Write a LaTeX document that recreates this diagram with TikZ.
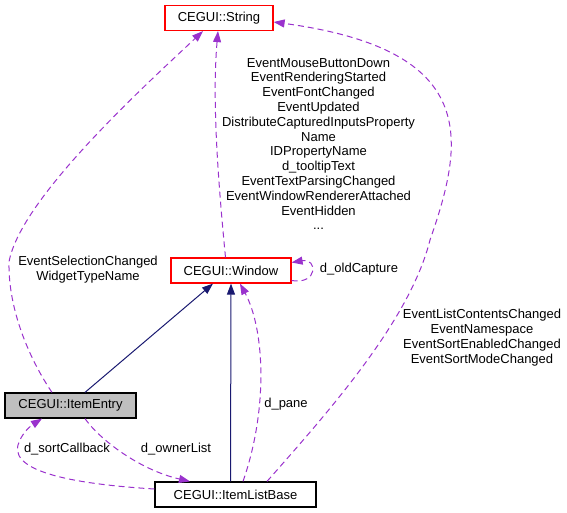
\documentclass[tikz,border=0pt]{standalone}
\usepackage{fontspec}
\setmainfont{Liberation Sans}
\usepackage{tikz}
\usetikzlibrary{arrows.meta,positioning}

\definecolor{orchid}{HTML}{9A32CD}
\definecolor{navy}{HTML}{191970}

\begin{document}
\begin{tikzpicture}
			[
				x=1pt, y=-1pt,
				font=\fontsize{13}{14.8}\selectfont,
				align=center,
				cls/.style={draw=black, line width=1.2pt, fill=white, inner sep=0pt, minimum height=25pt},
				hl/.style={cls, draw=red},
				label/.style={draw=none, fill=none, inner sep=0pt},
				uses/.style={-{Triangle[length=11pt,width=8pt]}, draw=orchid, line width=1pt, dash pattern=on 6pt off 4pt},
				inherit/.style={-{Triangle[length=11pt,width=8pt]}, draw=navy, line width=1pt}
			]
			\useasboundingbox (0,0) rectangle (567,513);

			% classes
			\node[hl, minimum width=108pt] (str) at ( 219.0,  18.0 ) {CEGUI::String};
			\node[hl, minimum width=120pt] (win) at ( 231.0, 270.5 ) {CEGUI::Window};
			\node[cls, fill={rgb,255:red,191;green,191;blue,191}, minimum width=131pt] (ie) at (  70.5, 405.5 ) {CEGUI::ItemEntry};
			\node[cls, minimum width=161pt] (ilb) at ( 235.5, 494.5 ) {CEGUI::ItemListBase};

			% member labels
			\node[label] (winstr) at ( 318.5, 144.0 ) {EventMouseButtonDown\\EventRenderingStarted\\EventFontChanged\\EventUpdated\\DistributeCapturedInputsProperty\\Name\\IDPropertyName\\d\_tooltipText\\EventTextParsingChanged\\EventWindowRendererAttached\\EventHidden\\...};
			\node[label] (iestr) at (  88.0, 270.0 ) {EventSelectionChanged\\WidgetTypeName};
			\node[label] (ilbstr) at ( 482.0, 337.5 ) {EventListContentsChanged\\EventNamespace\\EventSortEnabledChanged\\EventSortModeChanged};
			\node[label] (winwin) at ( 359.0, 269.0 ) {d\_oldCapture};
			\node[label] (ilbwin) at ( 286.0, 404.0 ) {d\_pane};
			\node[label] (ilbie) at (  67.0, 449.0 ) {d\_sortCallback};
			\node[label] (ieilb) at ( 176.0, 449.0 ) {d\_ownerList};

			% inheritance
			\draw[inherit] ([xshift=14.5pt]ie.north) -- ([xshift=-18pt]win.south);
			\draw[inherit] ([xshift=-5pt]ilb.north) -- (win.south);

			% usage
			\draw[uses] ([xshift=-18.5pt]ie.north) .. controls (30,360) and (8,310) .. (9,262)
				.. controls (20,200) and (140,90) .. ([xshift=-16pt]str.south);
			\draw[uses] ([xshift=-5.5pt]win.north) .. controls (218,180) and (212,100) .. ([xshift=-1pt]str.south);
			\draw[uses] ([xshift=31.5pt]ilb.north) .. controls (330,410) and (410,320) .. (430,240)
				.. controls (465,140) and (480,50) .. ([yshift=-4pt]str.east);
			\draw[uses] ([yshift=-10pt]win.east) .. controls (318,285) and (318,258) .. ([yshift=8pt]win.east);
			\draw[uses] ([xshift=7.5pt]ilb.north) .. controls (268,410) and (265,330) .. ([xshift=9pt]win.south);
			\draw[uses] ([xshift=14.5pt]ie.south) .. controls (100,440) and (140,470) .. ([xshift=-45.5pt]ilb.north);
			\draw[uses] ([yshift=5.5pt]ilb.west) .. controls (90,485) and (10,475) .. (18,445)
				.. controls (22,432) and (32,425) .. ([xshift=-28.5pt]ie.south);

		\end{tikzpicture}
\end{document}
